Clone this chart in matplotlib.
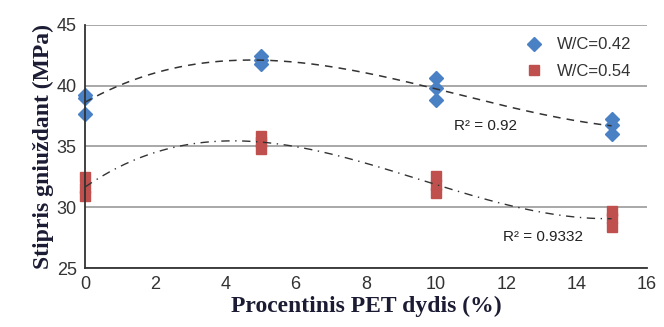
import numpy as np
import matplotlib.pyplot as plt

# data
pet_042 = [0, 0, 0, 5, 5, 5, 10, 10, 10, 15, 15, 15]
str_042 = [39.2, 39.0, 37.7, 42.4, 42.1, 41.8, 40.6, 39.8, 38.8, 37.3, 36.8, 36.0]
pet_054 = [0, 0, 0, 5, 5, 5, 10, 10, 10, 15, 15, 15]
str_054 = [32.5, 31.6, 30.9, 35.9, 35.4, 34.8, 32.6, 31.8, 31.2, 29.7, 29.1, 28.4]
r2_042 = 0.92
r2_054 = 0.9332

blue = '#4a80c4'
red = '#c0504d'

fig = plt.figure(figsize=(6.64, 3.27), dpi=100)
ax = fig.add_axes([0.128, 0.180, 0.846, 0.744])

# cubic trend lines, like Excel's polynomial trendline
xs = np.linspace(0, 15, 200)
p1 = np.polyfit(pet_042, str_042, 3)
p2 = np.polyfit(pet_054, str_054, 3)
ax.plot(xs, np.polyval(p1, xs), color='#333333', lw=1.1, dashes=(5, 4), zorder=3)
ax.plot(xs, np.polyval(p2, xs), color='#333333', lw=1.0, dashes=(6, 4, 1, 4), zorder=3)

ax.plot(pet_042, str_042, 'D', color=blue, ms=7.5, mec=blue, ls='none', label='W/C=0.42',
        zorder=2, clip_on=False)
ax.plot(pet_054, str_054, 's', color=red, ms=7.5, mec=red, ls='none', label='W/C=0.54',
        zorder=2, clip_on=False)

ax.text(10.5, 36.7, 'R² = %.2f' % r2_042, fontsize=11, color='#222222',
        family='Liberation Sans', va='center')
ax.text(11.9, 27.6, 'R² = %.4f' % r2_054, fontsize=11, color='#222222',
        family='Liberation Sans', va='center')

ax.set_xlim(0, 16)
ax.set_ylim(25, 45)
ax.set_xticks(range(0, 17, 2))
ax.set_yticks(range(25, 46, 5))
ax.yaxis.grid(True, color='#999999', lw=1.2)
ax.set_axisbelow(True)
for s in ['top', 'right']:
    ax.spines[s].set_visible(False)
for s in ['left', 'bottom']:
    ax.spines[s].set_color('#333333')
    ax.spines[s].set_linewidth(1.3)
ax.tick_params(length=0, labelsize=13, colors='#333333', pad=6)
for lab in ax.get_xticklabels() + ax.get_yticklabels():
    lab.set_family('Liberation Sans')

ax.set_xlabel('Procentinis PET dydis (%)', family='Liberation Serif', weight='bold',
              fontsize=17, color='#1b1b33', labelpad=2)
ax.set_ylabel('Stipris gniuždant (MPa)', family='Liberation Serif', weight='bold',
              fontsize=17, color='#1b1b33', labelpad=2)

leg = ax.legend(loc='upper right', bbox_to_anchor=(1.0, 1.01), frameon=False,
                prop={'family': 'Liberation Sans', 'size': 12}, handletextpad=0.4,
                labelspacing=0.7)
for t in leg.get_texts():
    t.set_color('#333333')

fig.savefig('out.png', dpi=100)
